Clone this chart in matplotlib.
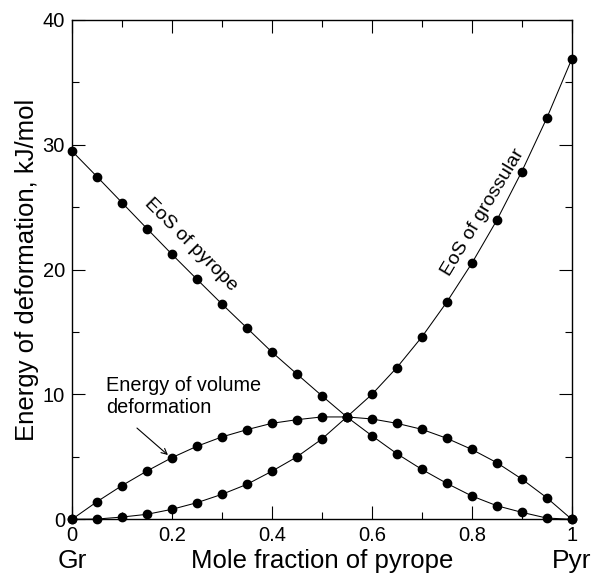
import matplotlib
matplotlib.use("Agg")
import matplotlib.pyplot as plt
from matplotlib.ticker import MultipleLocator, FuncFormatter
import matplotlib.transforms as mtransforms

plt.rcParams['font.family'] = ['Liberation Sans', 'DejaVu Sans']

# Data
x_frac = [0.0, 0.05, 0.1, 0.15, 0.2, 0.25, 0.3, 0.35, 0.4, 0.45, 0.5,
          0.55, 0.6, 0.65, 0.7, 0.75, 0.8, 0.85, 0.9, 0.95, 1.0]
eos_pyrope = [29.5, 27.45, 25.37, 23.29, 21.23, 19.23, 17.25, 15.33, 13.4, 11.64, 9.9,
              8.2, 6.7, 5.26, 4.0, 2.88, 1.87, 1.09, 0.56, 0.1, 0.0]
eos_grossular = [0.0, 0.02, 0.18, 0.4, 0.8, 1.33, 2.0, 2.8, 3.85, 5.0, 6.43,
                 8.2, 10.0, 12.15, 14.6, 17.4, 20.5, 23.95, 27.85, 32.13, 36.86]
volume_def = [0.0, 1.41, 2.7, 3.87, 4.94, 5.85, 6.6, 7.18, 7.69, 7.98, 8.2,
              8.2, 8.04, 7.69, 7.21, 6.49, 5.6, 4.54, 3.23, 1.73, 0.0]
x_ticks = [0, 0.2, 0.4, 0.6, 0.8, 1.0]
y_ticks = [0, 10, 20, 30, 40]

fig = plt.figure(figsize=(5.97, 5.74), dpi=100)
ax = fig.add_axes([72/597, 1-519.3/574, (571.7-72)/597, (519.3-20)/574])

for series in (eos_pyrope, eos_grossular, volume_def):
    ax.plot(x_frac, series, color='black', lw=0.75, marker='o', ms=6,
            mfc='black', mec='black', clip_on=False, zorder=3)

ax.set_xlim(0, 1)
ax.set_ylim(0, 40)
ax.set_xticks(x_ticks)
ax.set_yticks(y_ticks)
ax.xaxis.set_minor_locator(MultipleLocator(0.1))
ax.yaxis.set_minor_locator(MultipleLocator(5))
fmt = FuncFormatter(lambda v, p: '%g' % v)
ax.xaxis.set_major_formatter(fmt)
ax.yaxis.set_major_formatter(fmt)
ax.tick_params(which='both', direction='in', top=True, right=True, width=0.8, color='black')
ax.tick_params(which='major', length=9.5, labelsize=14.5)
ax.tick_params(which='minor', length=5)
ax.tick_params(axis='x', which='major', pad=5)
ax.tick_params(axis='y', which='major', pad=5)
for s in ax.spines.values():
    s.set_linewidth(1.0)

ax.set_ylabel('Energy of deformation, kJ/mol', fontsize=18.5, labelpad=3)
ax.set_xlabel('Mole fraction of pyrope', fontsize=18.5)
ax.xaxis.set_label_coords(0.5, -0.0975)
ax.xaxis.label.set_va('baseline')

trans = mtransforms.blended_transform_factory(ax.transData, ax.transAxes)
ax.text(0, -0.0975, 'Gr', transform=trans, ha='center', va='baseline', fontsize=19)
ax.text(1, -0.0975, 'Pyr', transform=trans, ha='center', va='baseline', fontsize=19)

ax.text(0.238, 21.98, 'EoS of pyrope', rotation=-45, rotation_mode='anchor',
        ha='center', va='center', fontsize=14)
ax.text(0.8225, 24.6, 'EoS of grossular', rotation=59, rotation_mode='anchor',
        ha='center', va='center', fontsize=14)
ax.text(0.068, 11.48, 'Energy of volume\ndeformation', ha='left', va='top',
        fontsize=14.3, linespacing=1.2)
ax.annotate('', xy=(0.192, 5.15), xytext=(0.130, 7.31),
            arrowprops=dict(arrowstyle='->', lw=0.8, color='black',
                            shrinkA=0, shrinkB=0, mutation_scale=10))

fig.savefig('out.png', dpi=100)
